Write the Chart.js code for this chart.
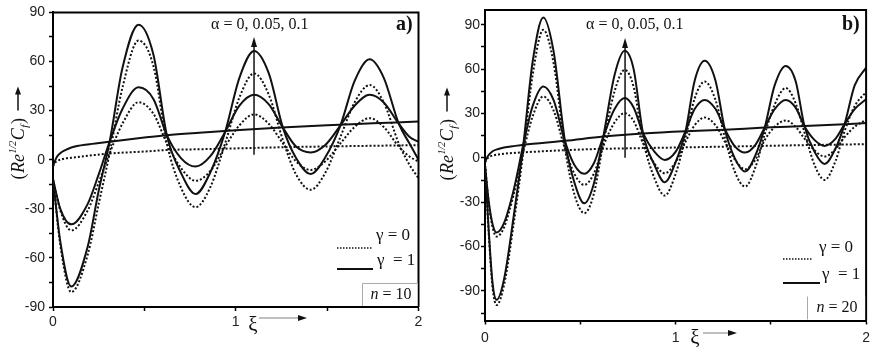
<!DOCTYPE html>
<html><head><meta charset="utf-8">
<script src="https://cdn.jsdelivr.net/npm/chart.js@4/dist/chart.umd.min.js"></script>
<style>
html,body{margin:0;padding:0;background:#fff;}
#wrap{position:relative;width:875px;height:350px;overflow:hidden;}
#ca{position:absolute;left:0;top:0;}
#cb{position:absolute;left:437px;top:0;}
</style></head><body>
<div id="wrap"><canvas id="ca" width="437" height="350"></canvas><canvas id="cb" width="438" height="350"></canvas></div>
<script>
// ---------- DATA ----------
const xTickValues = [0, 0.5, 1, 1.5, 2];
const xTickLabels = ['0', '', '1', '', '2'];
const aYTickValues = [-90, -75, -60, -45, -30, -15, 0, 15, 30, 45, 60, 75, 90];
const aYTickLabels = ['-90', '', '-60', '', '-30', '', '0', '', '30', '', '60', '', '90'];
const bYTickValues = [-105, -90, -75, -60, -45, -30, -15, 0, 15, 30, 45, 60, 75, 90];
const bYTickLabels = ['', '-90', '', '-60', '', '-30', '', '0', '', '30', '', '60', '', '90'];

// Panel a) n = 10
const aOscX = [0, 0.04, 0.10, 0.19, 0.25, 0.31, 0.38, 0.468, 0.55, 0.623, 0.70, 0.78, 0.86, 0.942, 1.02, 1.10, 1.18, 1.258, 1.33, 1.41, 1.49, 1.573, 1.65, 1.733, 1.81, 1.892, 1.95, 2.0];
const aSolidHi  = [-12, -50, -77.5, -53, -19, 11, 56, 82.5, 64, 15, -8, -21, -8, 17, 50, 66.4, 53, 19.6, 1, -8.7, 1.5, 21, 48, 61.3, 50, 22, 10, 0];
const aSolidMid = [-12, -30, -39.5, -27, -9, 11, 31, 44.2, 37, 15, 1, -4.2, 2, 17, 33, 39.7, 34, 19.6, 8, 4.4, 9, 21, 33, 39.7, 35, 22, 14, 10.9];
const aDotHi    = [-12, -52, -80.9, -58, -27, 4, 44, 72.8, 57, 10, -17, -29, -17, 10, 38, 52.7, 40, 12, -9, -18.4, -8, 14, 35, 45.6, 35, 10, -3, -11.3];
const aDotMid   = [-12, -31, -43.2, -31, -14, 4, 22, 35.1, 28, 10, -5, -12.9, -7, 8, 21, 27.7, 22, 10, -1, -6.3, -1, 10, 20, 25.4, 20, 8, 2, -1.2];
const aZeroX    = [0, 0.01, 0.02, 0.04, 0.07, 0.1, 0.2, 0.31, 0.5, 0.623, 0.8, 1.0, 1.25, 1.5, 1.75, 2.0];
const aSolidZero = [-4, -1, 1.5, 4, 6, 7.5, 9.5, 11, 13.5, 15, 16.5, 18, 19.6, 21, 22.2, 23.4];
const aDotZero   = [-4, -2, -1, 0, 0.8, 1.2, 2.5, 3.8, 5.0, 5.9, 6.4, 6.9, 7.6, 8.1, 8.5, 8.9];

// Panel b) n = 20
const bOscX = [0, 0.02, 0.04, 0.061, 0.10, 0.15, 0.201, 0.25, 0.306, 0.36, 0.42, 0.47, 0.521, 0.57, 0.621, 0.68, 0.733, 0.78, 0.829, 0.89, 0.943, 1.0, 1.053, 1.10, 1.153, 1.21, 1.258, 1.31, 1.365, 1.42, 1.468, 1.52, 1.578, 1.63, 1.677, 1.73, 1.782, 1.84, 1.887, 1.94, 2.0];
const bSolidHi  = [-5, -50, -85, -96, -82, -40, 8.8, 65, 95, 72, 11, -17, -30.7, -18, 14.4, 56, 72.4, 60, 16.7, -5, -16.5, -3, 18.3, 52, 65.6, 52, 19.6, 0, -9.2, 2, 20.5, 49, 62.2, 52, 21.2, 4, -4.1, 6.5, 22.8, 49, 61];
const bSolidMid = [-5, -30, -45, -50.5, -44, -22, 8.8, 35, 48.3, 39, 11, -5, -10.8, -4, 14.4, 33, 40.4, 34, 16.7, 4, -1.4, 4, 18.3, 33, 39.2, 33, 19.6, 8, 3.6, 9, 20.5, 33, 39.2, 34, 21.2, 12, 8.1, 13, 22.8, 33, 39.7];
const bDotHi    = [-5, -52, -88, -99.5, -86, -45, 4, 56, 86.6, 64, 6, -25, -37.4, -25, 10, 45, 59.5, 48, 12, -14, -25.5, -11, 14, 40, 51.6, 39, 14, -9, -19.4, -6, 16, 36, 47.2, 37, 17, -5, -14.9, -2, 18, 35, 44.5];
const bDotMid   = [-5, -31, -47, -53.2, -47, -25, 4, 28, 41.5, 32, 6, -11, -18.3, -11, 8, 24, 30.2, 25, 10, -4, -10.4, -3, 11, 22, 27.3, 22, 11, -1, -7.7, -1, 12, 21, 25.3, 21, 13, 5, 0.9, 6, 14, 21, 25.7];
const bZeroX    = [0, 0.01, 0.02, 0.04, 0.07, 0.1, 0.2, 0.42, 0.621, 0.829, 1.053, 1.258, 1.468, 1.677, 1.887, 2.0];
const bSolidZero = [-3, 0, 2, 4.5, 6, 7, 8.8, 11.5, 14.4, 16.5, 18, 19, 20.5, 21.5, 22.7, 23.5];
const bDotZero   = [-3, -1, 0.5, 1.5, 2.3, 2.8, 3.7, 5.2, 6.1, 6.6, 7.1, 7.6, 8.1, 8.6, 9.0, 9.3];

// ---------- STYLE / LAYOUT ----------
const SERIF = '"Liberation Serif", "DejaVu Serif", serif';
const SANS = '"Liberation Sans", Arial, sans-serif';
const INK = '#111';

function series(xs, ys, dotted) {
  return {
    data: xs.map((x, i) => ({ x: x, y: ys[i] })),
    borderColor: INK,
    borderWidth: 2,
    borderDash: dotted ? [2, 2] : [],
    pointRadius: 0,
    cubicInterpolationMode: 'monotone',
    fill: false
  };
}

function arrowHead(ctx, x, y, dir, len, half) {
  ctx.beginPath();
  if (dir === 'up') { ctx.moveTo(x, y); ctx.lineTo(x - half, y + len); ctx.lineTo(x + half, y + len); }
  else { ctx.moveTo(x, y); ctx.lineTo(x - len, y - half); ctx.lineTo(x - len, y + half); }
  ctx.closePath(); ctx.fill();
}

function drawYTitle(ctx, cx, cy) {
  const parts = [
    { t: '(', f: '18px ' + SERIF, dy: 0 },
    { t: 'Re', f: 'italic 18px ' + SERIF, dy: 0 },
    { t: '1/2', f: 'italic 10px ' + SERIF, dy: -8 },
    { t: 'C', f: 'italic 18px ' + SERIF, dy: 0 },
    { t: 'f', f: 'italic 11px ' + SERIF, dy: 4 },
    { t: ')', f: '18px ' + SERIF, dy: 0 }
  ];
  ctx.save();
  ctx.translate(cx, cy);
  ctx.rotate(-Math.PI / 2);
  ctx.fillStyle = INK; ctx.strokeStyle = INK;
  ctx.textBaseline = 'alphabetic'; ctx.textAlign = 'left';
  let w = 0;
  parts.forEach(p => { ctx.font = p.f; p.w = ctx.measureText(p.t).width + 0.5; w += p.w; });
  const gap = 7, arrowLen = 24;
  let x = -(w + gap + arrowLen) / 2;
  parts.forEach(p => { ctx.font = p.f; ctx.fillText(p.t, x, 6 + p.dy); x += p.w; });
  ctx.lineWidth = 1.5;
  ctx.beginPath(); ctx.moveTo(x + gap, 0); ctx.lineTo(x + gap + arrowLen - 6, 0); ctx.stroke();
  arrowHead(ctx, x + gap + arrowLen, 0, 'right', 8, 3);
  ctx.restore();
}

function decorPlugin(spec) {
  return {
    id: 'decor',
    afterDraw(chart) {
      const ctx = chart.ctx, ca = chart.chartArea;
      const xs = chart.scales.x, ys = chart.scales.y;
      ctx.save();
      // frame top/right
      ctx.strokeStyle = '#000'; ctx.lineWidth = 2;
      ctx.beginPath();
      ctx.moveTo(ca.left, ca.top); ctx.lineTo(ca.right, ca.top); ctx.lineTo(ca.right, ca.bottom);
      ctx.stroke();
      // alpha arrow
      const ax = xs.getPixelForValue(spec.arrowX);
      const ay0 = ys.getPixelForValue(spec.arrowFrom), ay1 = ys.getPixelForValue(spec.arrowTo);
      ctx.fillStyle = INK; ctx.strokeStyle = INK; ctx.lineWidth = 1.5;
      ctx.beginPath(); ctx.moveTo(ax, ay0); ctx.lineTo(ax, ay1 + 6); ctx.stroke();
      arrowHead(ctx, ax, ay1, 'up', 10, 3);
      ctx.font = '16px ' + SERIF; ctx.textAlign = 'left'; ctx.textBaseline = 'middle';
      ctx.fillText('\u03b1 = 0, 0.05, 0.1', spec.alphaTextX, spec.alphaTextY);
      // panel letter
      ctx.font = 'bold 20px ' + SERIF;
      ctx.fillText(spec.letter, spec.letterX, spec.letterY);
      // legend
      ctx.lineWidth = 1.6;
      ctx.setLineDash([1.5, 1.5]);
      ctx.beginPath(); ctx.moveTo(spec.legX0, spec.legY0); ctx.lineTo(spec.legX1a, spec.legY0); ctx.stroke();
      ctx.setLineDash([]);
      ctx.lineWidth = 2;
      ctx.beginPath(); ctx.moveTo(spec.legX0, spec.legY1); ctx.lineTo(spec.legX1b, spec.legY1); ctx.stroke();
      ctx.font = '17px ' + SERIF; ctx.textBaseline = 'middle';
      ctx.fillText('\u03b3 = 0', spec.legTxtXa, spec.legTxtY0);
      ctx.fillText('\u03b3  = 1', spec.legTxtXb, spec.legTxtY1);
      // n box
      ctx.fillStyle = '#fff';
      ctx.fillRect(spec.boxX, spec.boxY, ca.right - spec.boxX - 1, ca.bottom - spec.boxY - 1);
      ctx.strokeStyle = '#aaa'; ctx.lineWidth = 1;
      ctx.beginPath();
      ctx.moveTo(spec.boxX + 0.5, ca.bottom - 1);
      ctx.lineTo(spec.boxX + 0.5, spec.boxY + 0.5);
      if (spec.boxTop) ctx.lineTo(ca.right - 1, spec.boxY + 0.5);
      ctx.stroke();
      ctx.fillStyle = INK;
      ctx.textAlign = 'left';
      ctx.font = 'italic 16px ' + SERIF;
      const nw = ctx.measureText('n').width;
      ctx.font = '16px ' + SERIF;
      const rest = ' = ' + spec.nVal;
      const rw = ctx.measureText(rest).width;
      const nx = spec.nCx - (nw + rw) / 2;
      ctx.font = 'italic 16px ' + SERIF; ctx.fillText('n', nx, spec.nCy);
      ctx.font = '16px ' + SERIF; ctx.fillText(rest, nx + nw, spec.nCy);
      // xi label
      ctx.font = '21px ' + SERIF; ctx.textAlign = 'center'; ctx.textBaseline = 'middle';
      ctx.fillText('\u03be', spec.xiX, spec.xiY);
      ctx.lineWidth = 1.5;
      ctx.beginPath(); ctx.moveTo(spec.xiA0, spec.xiAY); ctx.lineTo(spec.xiA1 - 6, spec.xiAY); ctx.stroke();
      arrowHead(ctx, spec.xiA1, spec.xiAY, 'right', 9, 3);
      // y title
      drawYTitle(ctx, spec.yTitleX, spec.yTitleY);
      ctx.restore();
    }
  };
}

function makeChart(id, datasets, spec) {
  return new Chart(document.getElementById(id), {
    type: 'line',
    data: { datasets: datasets },
    options: {
      responsive: false,
      animation: false,
      events: [],
      layout: { padding: { left: 0, top: spec.padTop, right: spec.padRight, bottom: 0 } },
      plugins: { legend: { display: false }, tooltip: { enabled: false } },
      scales: {
        x: {
          type: 'linear', min: 0, max: 2,
          afterBuildTicks: s => { s.ticks = xTickValues.map(v => ({ value: v })); },
          afterFit: s => { s.height = spec.xAxisH; },
          ticks: { callback: (v, i) => xTickLabels[i], font: { family: SANS, size: 14 }, color: '#222', padding: spec.xPad, maxRotation: 0, autoSkip: false },
          grid: { display: true, drawOnChartArea: false, drawTicks: true, tickLength: 4, tickColor: '#000', tickWidth: 1.5 },
          border: { display: true, color: '#000', width: 2 }
        },
        y: {
          type: 'linear', min: spec.yMin, max: spec.yMax,
          afterBuildTicks: s => { s.ticks = spec.yTicks.map(v => ({ value: v })); },
          afterFit: s => { s.width = spec.yAxisW; },
          ticks: { callback: (v, i) => spec.yLabels[i], font: { family: SANS, size: 14 }, color: '#222', padding: spec.yPad, autoSkip: false },
          grid: { display: true, drawOnChartArea: false, drawTicks: true, tickLength: 4, tickColor: '#000', tickWidth: 1.5 },
          border: { display: true, color: '#000', width: 2 }
        }
      }
    },
    plugins: [decorPlugin(spec)]
  });
}

makeChart('ca', [
  series(aOscX, aSolidHi, false),
  series(aOscX, aSolidMid, false),
  series(aZeroX, aSolidZero, false),
  series(aOscX, aDotHi, true),
  series(aOscX, aDotMid, true),
  series(aZeroX, aDotZero, true)
], {
  yMin: -90, yMax: 90, yTicks: aYTickValues, yLabels: aYTickLabels,
  padTop: 9, padRight: 18.5, xAxisH: 43, yAxisW: 53, xPad: 3, yPad: 4,
  arrowX: 1.10, arrowFrom: 3, arrowTo: 75,
  alphaTextX: 211, alphaTextY: 25, letter: 'a)', letterX: 396, letterY: 25,
  legX0: 337, legX1a: 373, legX1b: 373, legY0: 248, legY1: 269,
  legTxtXa: 376, legTxtXb: 377, legTxtY0: 236, legTxtY1: 261,
  boxX: 362, boxY: 283, boxTop: true, nVal: '10', nCx: 391, nCy: 295,
  xiX: 253, xiY: 325, xiA0: 259, xiA1: 307, xiAY: 318,
  yTitleX: 18, yTitleY: 133
});

makeChart('cb', [
  series(bOscX, bSolidHi, false),
  series(bOscX, bSolidMid, false),
  series(bZeroX, bSolidZero, false),
  series(bOscX, bDotHi, true),
  series(bOscX, bDotMid, true),
  series(bZeroX, bDotZero, true)
], {
  yMin: -110, yMax: 100, yTicks: bYTickValues, yLabels: bYTickLabels,
  padTop: 10, padRight: 8.5, xAxisH: 29.5, yAxisW: 48, xPad: 5, yPad: 1,
  arrowX: 0.735, arrowFrom: 0, arrowTo: 81,
  alphaTextX: 149, alphaTextY: 25, letter: 'b)', letterX: 405, letterY: 25,
  legX0: 346, legX1a: 376, legX1b: 383, legY0: 259, legY1: 283,
  legTxtXa: 382, legTxtXb: 385, legTxtY0: 248, legTxtY1: 275,
  boxX: 370, boxY: 296, boxTop: false, nVal: '20', nCx: 400, nCy: 308,
  xiX: 258, xiY: 338, xiA0: 266, xiA1: 300, xiAY: 333,
  yTitleX: 10, yTitleY: 134
});
</script>
</body></html>
